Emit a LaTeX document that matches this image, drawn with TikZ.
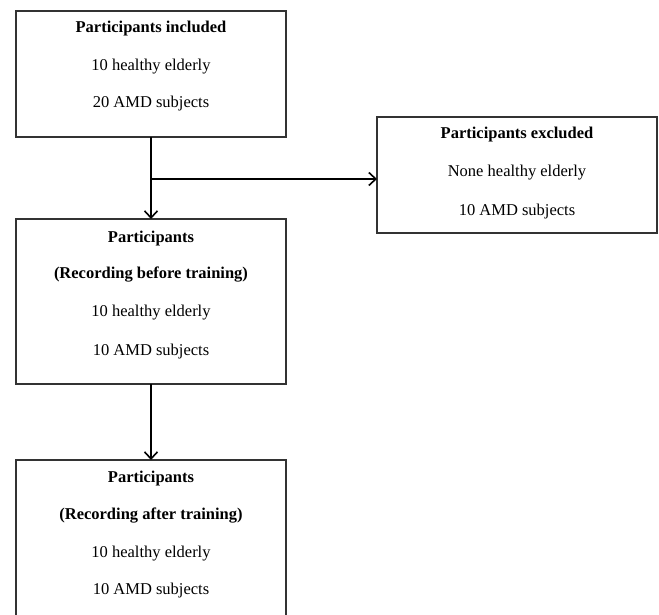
\documentclass[tikz,border=0pt]{standalone}
\usepackage{fontspec}
\setmainfont{Liberation Serif}
\usetikzlibrary{arrows.meta}
\begin{document}
\begin{tikzpicture}[x=1pt,y=-1pt,
  box/.style={draw=black!80, line width=1.1pt, anchor=north west, inner sep=0pt, outer sep=0pt},
  txt/.style={font=\fontsize{16.5}{20}\selectfont, inner sep=0pt, anchor=center},
  hd/.style={txt, font=\fontsize{16.5}{20}\selectfont\bfseries},
  arr/.style={draw=black, line width=1.8pt, -{Straight Barb[length=7pt,width=13pt,line width=1.6pt]}},
  ln/.style={draw=black, line width=1.8pt}]
\useasboundingbox (0,0) rectangle (659,615);
\clip (0,0) rectangle (659,615);
\node[box, minimum width=270pt, minimum height=126pt] (b1) at (16,11) {};
\node[box, minimum width=280pt, minimum height=116pt] (b2) at (377,117) {};
\node[box, minimum width=270pt, minimum height=165pt] (b3) at (16,219) {};
\node[box, minimum width=270pt, minimum height=175pt] (b4) at (16,460) {};

\node[hd]  (t11) at (151,29)  {Participants included};
\node[txt] (t12) at (151,67)  {10 healthy  elderly};
\node[txt] (t13) at (151,104) {20 AMD subjects};

\node[hd]  (t21) at (517,135) {Participants excluded};
\node[txt] (t22) at (517,173) {None healthy  elderly};
\node[txt] (t23) at (517,212) {10 AMD subjects};

\node[hd]  (t31) at (151,239) {Participants};
\node[hd]  (t32) at (151,275) {(Recording before training)};
\node[txt] (t33) at (151,313) {10 healthy  elderly};
\node[txt] (t34) at (151,352) {10 AMD subjects};

\node[hd]  (t41) at (151,479) {Participants};
\node[hd]  (t42) at (151,516) {(Recording after training)};
\node[txt] (t43) at (151,554) {10 healthy  elderly};
\node[txt] (t44) at (151,591) {10 AMD subjects};

\coordinate (j) at (151,179);
\draw[arr] (b1.south) -- (b3.north);
\draw[arr] (j) -- (j -| b2.west);
\draw[arr] (b3.south) -- (b4.north);
\end{tikzpicture}
\end{document}
